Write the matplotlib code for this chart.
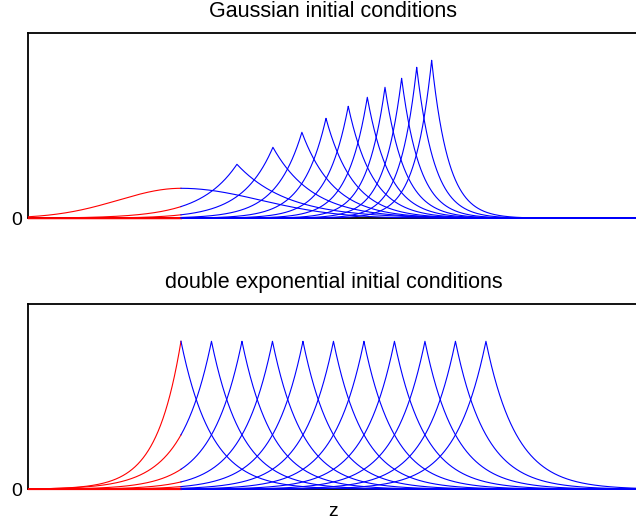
import numpy as np
import matplotlib
matplotlib.use("Agg")
import matplotlib.pyplot as plt

plt.rcParams['font.family'] = ['Liberation Sans', 'DejaVu Sans']

# z where the colour changes (red left of it, blue right of it)
z_split = 0.0

# Gaussian initial condition (t = 0)
gauss0_center = 0.0
gauss0_height = 30
gauss0_sig_left = 0.41
gauss0_sig_right = 0.52

# later Gaussian-started profiles: peak position, peak height, left/right decay
gauss_peaks = [0.367, 0.603, 0.793, 0.951, 1.097, 1.222, 1.338, 1.447, 1.546, 1.644]
gauss_heights = [54, 71, 86, 100, 112, 121, 131, 140, 151, 158]
gauss_wl = [0.24, 0.20, 0.17, 0.15, 0.14, 0.13, 0.12, 0.115, 0.11, 0.11]
gauss_wr = [0.33, 0.26, 0.21, 0.18, 0.16, 0.145, 0.13, 0.12, 0.115, 0.11]

# double exponential profiles
dexp_peaks = [0.0, 0.2, 0.4, 0.6, 0.8, 1.0, 1.2, 1.4, 1.6, 1.8, 2.0]
dexp_height = 148
dexp_wl = [0.16, 0.2, 0.2, 0.2, 0.2, 0.2, 0.2, 0.2, 0.2, 0.2, 0.2]
dexp_wr = [0.2, 0.2, 0.2, 0.2, 0.2, 0.2, 0.2, 0.2, 0.2, 0.2, 0.2]

titles = ["Gaussian initial conditions", "double exponential initial conditions"]

zmin, zmax = -1.0, 3.0
ytop = 185


def cusp(z, p, h, wl, wr):
    return np.where(z < p, h * np.exp(-(p - z) / wl), h * np.exp(-(z - p) / wr))


def draw(ax, z, y):
    left = z <= z_split
    right = z >= z_split
    ax.plot(z[left], y[left], color='red', lw=0.8, clip_on=False, zorder=3)
    ax.plot(z[right], y[right], color='blue', lw=0.8, clip_on=False, zorder=3)


fig = plt.figure(figsize=(6.36, 5.25), dpi=100)
ax1 = fig.add_axes([0.0448, 0.5842, 0.959, 0.3524])
ax2 = fig.add_axes([0.0448, 0.068, 0.959, 0.3524])

base = np.linspace(zmin, zmax, 4001)

# top panel
z = base
g0 = np.where(z < gauss0_center,
              gauss0_height * np.exp(-0.5 * ((z - gauss0_center) / gauss0_sig_left) ** 2),
              gauss0_height * np.exp(-0.5 * ((z - gauss0_center) / gauss0_sig_right) ** 2))
draw(ax1, z, g0)
for p, h, wl, wr in zip(gauss_peaks, gauss_heights, gauss_wl, gauss_wr):
    z = np.union1d(base, [p, z_split])
    draw(ax1, z, cusp(z, p, h, wl, wr))

# bottom panel
for p, wl, wr in zip(dexp_peaks, dexp_wl, dexp_wr):
    z = np.union1d(base, [p, z_split])
    draw(ax2, z, cusp(z, p, dexp_height, wl, wr))

for ax, title in zip([ax1, ax2], titles):
    ax.set_xlim(zmin, zmax)
    ax.set_ylim(0, ytop)
    ax.set_xticks([])
    ax.set_yticks([0])
    ax.set_yticklabels(["0"])
    ax.tick_params(axis='y', length=0, pad=4.5, labelsize=14)
    ax.spines['right'].set_visible(False)
    for s in ['left', 'top', 'bottom']:
        ax.spines[s].set_linewidth(1.3)
    ax.set_title(title, fontsize=15.5, pad=11.9)

fig.text(0.5244, 1 - 515.7 / 525, "z", ha='center', va='baseline', fontsize=14)

plt.savefig("out.png", dpi=100)
